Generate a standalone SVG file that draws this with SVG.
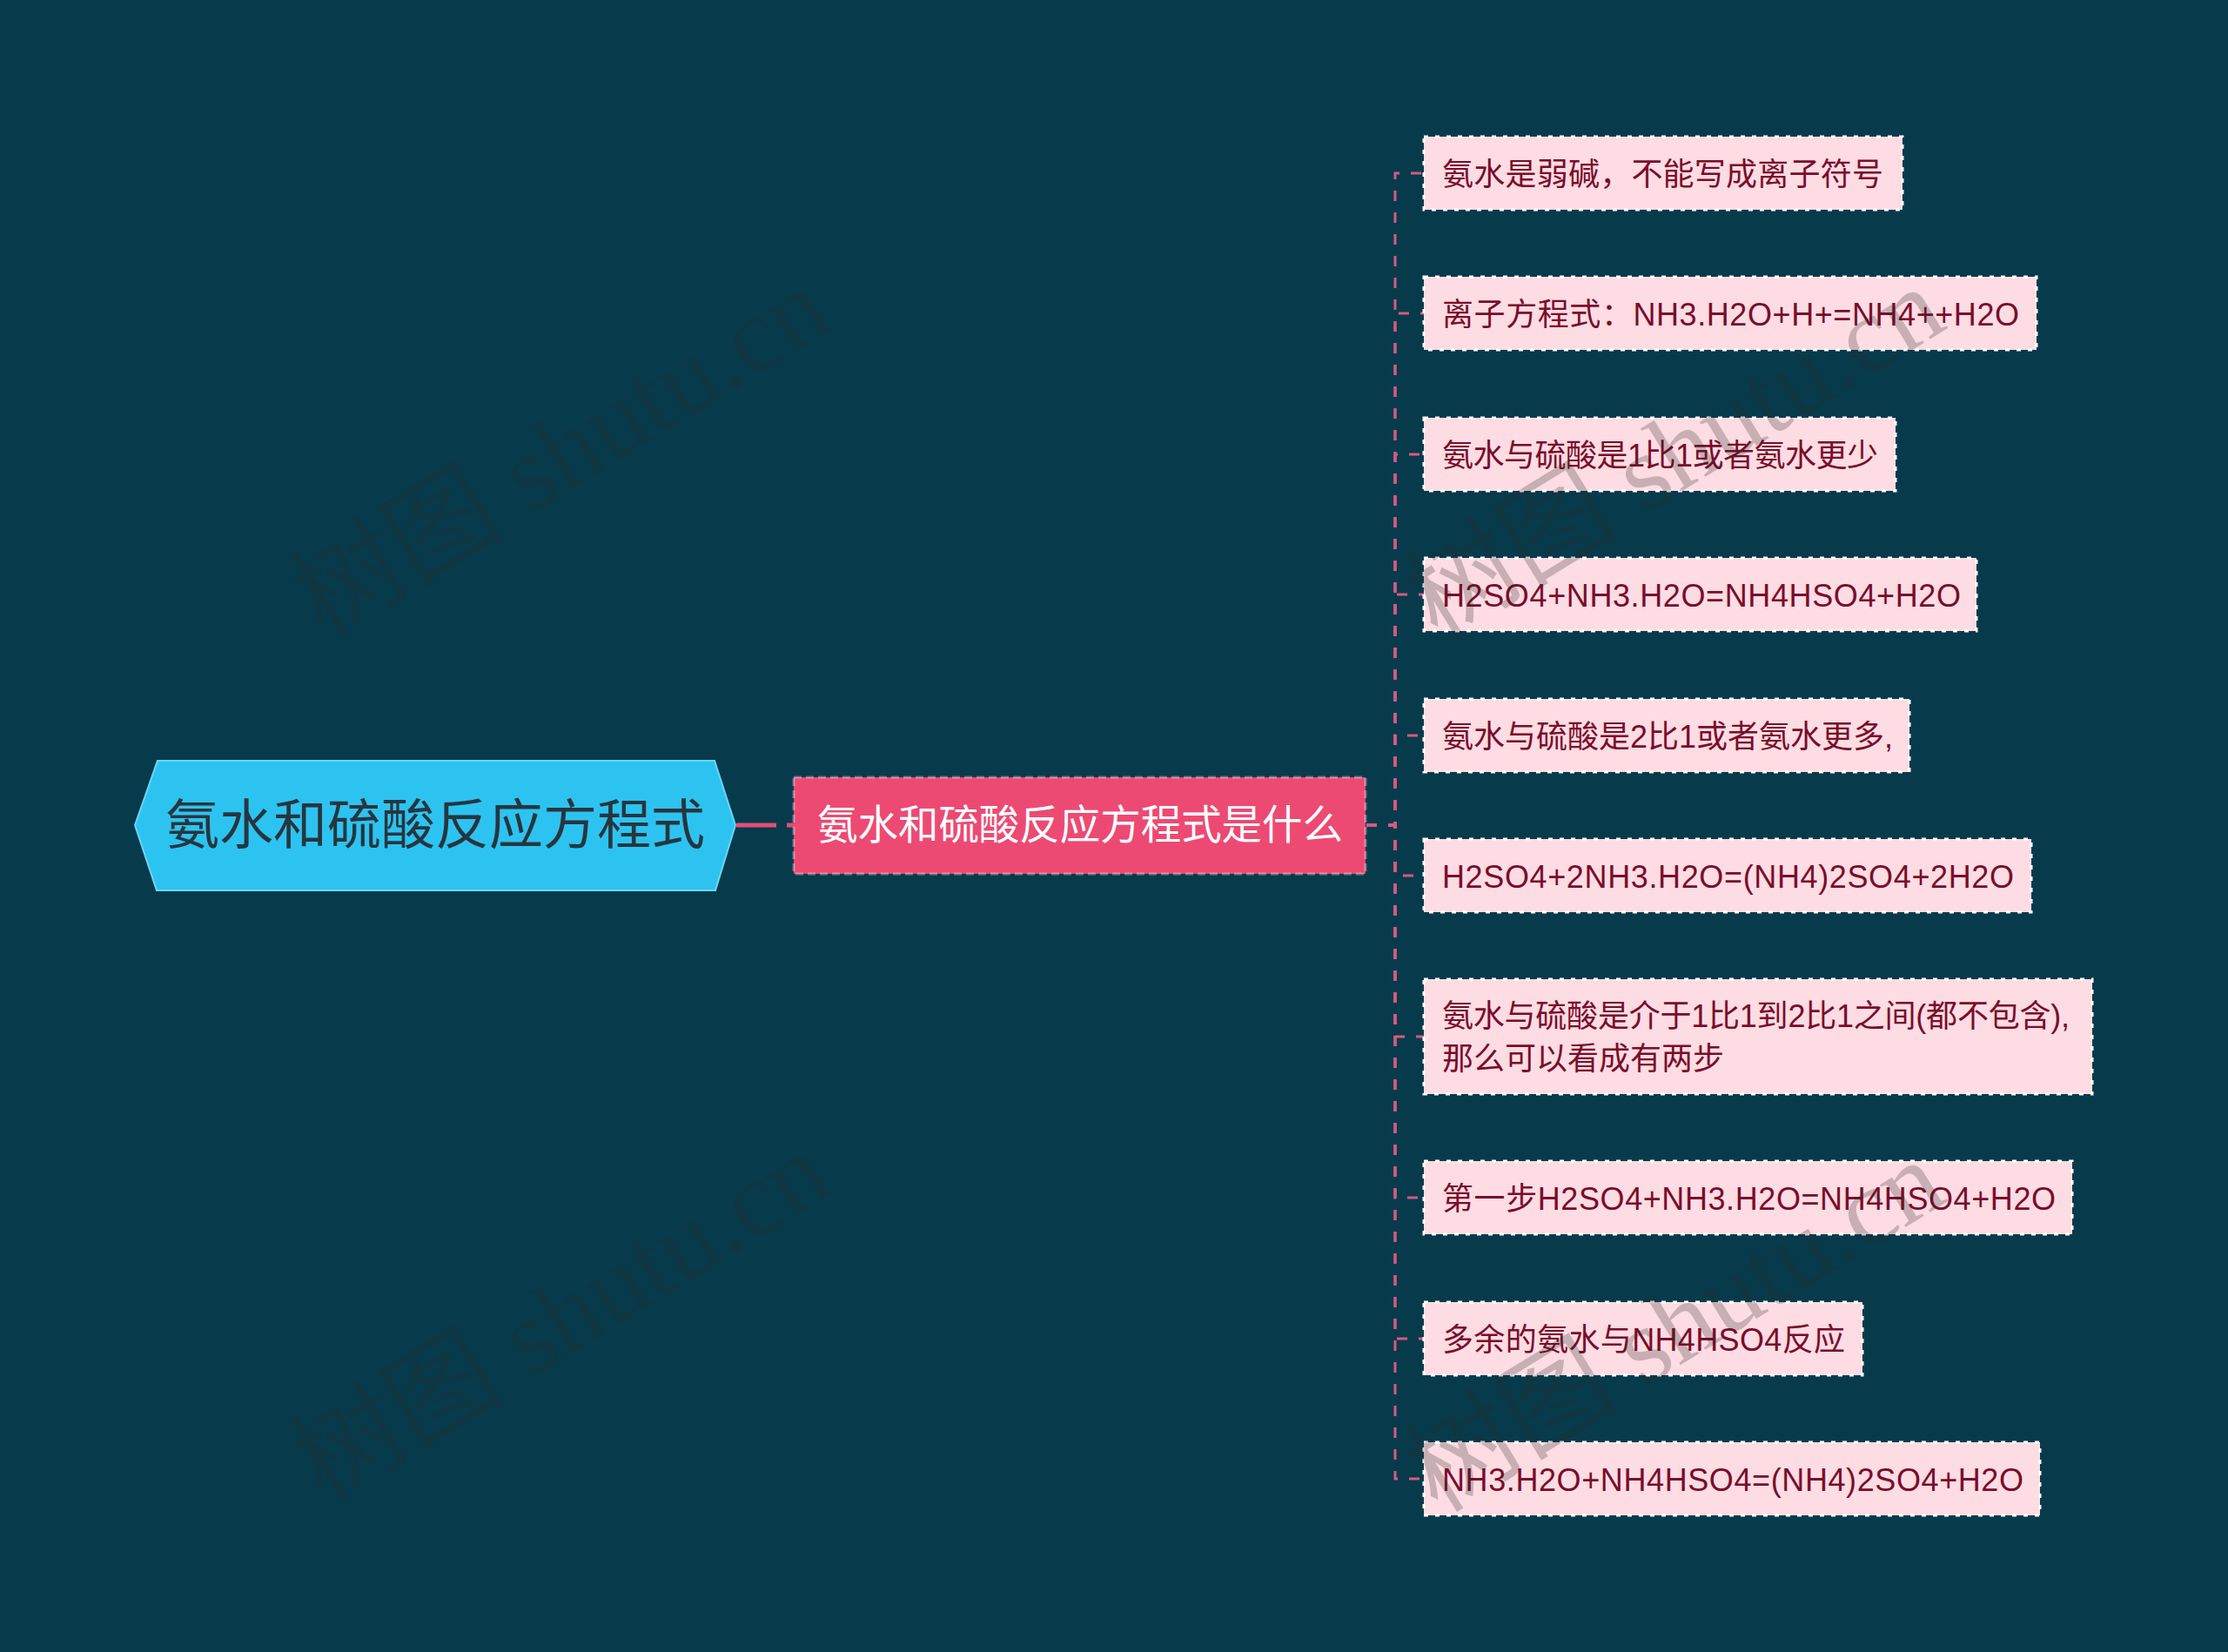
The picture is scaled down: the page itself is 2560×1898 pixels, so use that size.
<svg xmlns="http://www.w3.org/2000/svg" width="2560" height="1898" viewBox="0 0 2560 1898">
<style>
.bg{fill:#073b4c}
.root-shape{fill:#2dc3f1;stroke:#6cd5f4;stroke-width:2}
.root-text{font-family:"Noto Sans CJK SC","Noto Sans",sans-serif;font-size:62px;fill:#26363e}
.main-shape{fill:#ec4a73;stroke:#ffffff;stroke-opacity:0.35;stroke-width:3;stroke-dasharray:9 5}
.main-text{font-family:"Noto Sans CJK SC","Noto Sans",sans-serif;font-size:46.5px;fill:#ffffff}
.leaf-shape{fill:#fddce3;stroke:#ffffff;stroke-width:3;stroke-dasharray:5 8}
.leaf-text{font-family:"Liberation Sans","Noto Sans CJK SC",sans-serif;font-size:36px;fill:#7b0c2a}
.link-main{fill:none;stroke:#e24e78;stroke-width:5;stroke-dasharray:46 12}
.link{fill:none;stroke:#d65a82;stroke-width:3;stroke-dasharray:12 13}
.wm{font-family:"Liberation Serif","Noto Sans CJK SC",serif;font-size:124px;fill:#282828;fill-opacity:0.25}
</style>
<rect class="bg" x="0" y="0" width="2560" height="1898"/>

<g id="connectors">
<path class="link-main" d="M846,948 H912"/>
<path class="link" d="M1570,948 H1603 V199 H1636"/>
<path class="link" d="M1570,948 H1603 V360 H1636"/>
<path class="link" d="M1570,948 H1603 V522 H1636"/>
<path class="link" d="M1570,948 H1603 V683 H1636"/>
<path class="link" d="M1570,948 H1603 V845 H1636"/>
<path class="link" d="M1570,948 H1603 V1006 H1636"/>
<path class="link" d="M1570,948 H1603 V1191 H1636"/>
<path class="link" d="M1570,948 H1603 V1376 H1636"/>
<path class="link" d="M1570,948 H1603 V1538 H1636"/>
<path class="link" d="M1570,948 H1603 V1699 H1636"/>
</g>

<g id="root">
<polygon class="root-shape" points="155,948 181,874 821,874 845,948 822,1023 180,1023"/>
<text class="root-text" x="500" y="970" text-anchor="middle">氨水和硫酸反应方程式</text>
</g>

<g id="main">
<rect class="main-shape" x="912" y="893" width="657" height="111"/>
<text class="main-text" x="1241" y="964" text-anchor="middle" textLength="604" lengthAdjust="spacing">氨水和硫酸反应方程式是什么</text>
</g>

<g id="leaf1">
<rect class="leaf-shape" x="1636" y="157" width="550" height="84"/>
<text class="leaf-text" x="1657" y="212.5" textLength="507" lengthAdjust="spacing">氨水是弱碱，不能写成离子符号</text>
</g>
<g id="leaf2">
<rect class="leaf-shape" x="1636" y="318" width="704" height="84"/>
<text class="leaf-text" x="1657" y="373.5" textLength="663" lengthAdjust="spacing">离子方程式：NH3.H2O+H+=NH4++H2O</text>
</g>
<g id="leaf3">
<rect class="leaf-shape" x="1636" y="480" width="542" height="84"/>
<text class="leaf-text" x="1657" y="535.5" textLength="501" lengthAdjust="spacing">氨水与硫酸是1比1或者氨水更少</text>
</g>
<g id="leaf4">
<rect class="leaf-shape" x="1636" y="641" width="635" height="84"/>
<text class="leaf-text" x="1657" y="696.5" textLength="596" lengthAdjust="spacing">H2SO4+NH3.H2O=NH4HSO4+H2O</text>
</g>
<g id="leaf5">
<rect class="leaf-shape" x="1636" y="803" width="558" height="84"/>
<text class="leaf-text" x="1657" y="858.5" textLength="518" lengthAdjust="spacing">氨水与硫酸是2比1或者氨水更多,</text>
</g>
<g id="leaf6">
<rect class="leaf-shape" x="1636" y="964" width="698" height="84"/>
<text class="leaf-text" x="1657" y="1019.5" textLength="657" lengthAdjust="spacing">H2SO4+2NH3.H2O=(NH4)2SO4+2H2O</text>
</g>
<g id="leaf7">
<rect class="leaf-shape" x="1636" y="1125" width="768" height="132"/>
<text class="leaf-text" x="1657" y="1179.5" textLength="721" lengthAdjust="spacing">氨水与硫酸是介于1比1到2比1之间(都不包含),</text>
<text class="leaf-text" x="1657" y="1228.5">那么可以看成有两步</text>
</g>
<g id="leaf8">
<rect class="leaf-shape" x="1636" y="1334" width="745" height="84"/>
<text class="leaf-text" x="1657" y="1389.5" textLength="705" lengthAdjust="spacing">第一步H2SO4+NH3.H2O=NH4HSO4+H2O</text>
</g>
<g id="leaf9">
<rect class="leaf-shape" x="1636" y="1496" width="504" height="84"/>
<text class="leaf-text" x="1657" y="1551.5" textLength="463" lengthAdjust="spacing">多余的氨水与NH4HSO4反应</text>
</g>
<g id="leaf10">
<rect class="leaf-shape" x="1636" y="1657" width="708" height="84"/>
<text class="leaf-text" x="1657" y="1712.5" textLength="668" lengthAdjust="spacing">NH3.H2O+NH4HSO4=(NH4)2SO4+H2O</text>
</g>

<g id="watermarks">
<text class="wm" text-anchor="middle" transform="translate(645,522) rotate(-31.5)" y="40" textLength="690" lengthAdjust="spacing">树图 shutu.cn</text>
<text class="wm" text-anchor="middle" transform="translate(645,1515) rotate(-31.5)" y="40" textLength="690" lengthAdjust="spacing">树图 shutu.cn</text>
<text class="wm" text-anchor="middle" transform="translate(1925,522) rotate(-31.5)" y="40" textLength="690" lengthAdjust="spacing">树图 shutu.cn</text>
<text class="wm" text-anchor="middle" transform="translate(1925,1525) rotate(-31.5)" y="40" textLength="690" lengthAdjust="spacing">树图 shutu.cn</text>
</g>
</svg>
